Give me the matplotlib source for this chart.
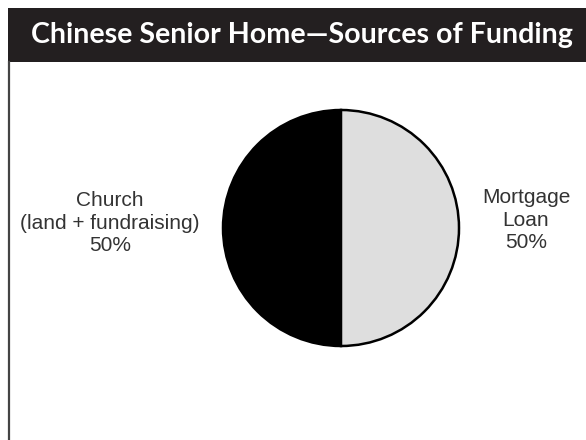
import matplotlib.pyplot as plt
from matplotlib.patches import Rectangle
from matplotlib.lines import Line2D

title = "Chinese Senior Home\u2014Sources of Funding"
sources = ["Church\n(land + fundraising)", "Mortgage\nLoan"]
shares = [50, 50]
colors = ["#000000", "#dedede"]

W, H = 586, 440
fig = plt.figure(figsize=(W / 100, H / 100), dpi=100)
fig.patch.set_facecolor("white")

# dark title band across the top
fig.add_artist(Rectangle((8 / W, 1 - 62 / H), 1 - 8 / W, 54 / H,
                         transform=fig.transFigure, facecolor="#231f20",
                         edgecolor="none"))
fig.text(302 / W, 1 - 35 / H, title, color="white",
         fontsize=20.6, fontweight="bold", family="Lato",
         ha="center", va="center")

# thin rule down the left side
fig.add_artist(Line2D([9.5 / W, 9.5 / W], [0, 1 - 62 / H],
                      transform=fig.transFigure, color="#444444", lw=1.6))

# pie
cx, cy, r = 341, 228, 118
ax = fig.add_axes([(cx - r) / W, 1 - (cy + r) / H, 2 * r / W, 2 * r / H])
wedges, _ = ax.pie(shares, colors=colors, startangle=90, counterclock=True,
                   wedgeprops=dict(edgecolor="black", linewidth=1.8))
for w in wedges:
    w.set_clip_on(False)
ax.set_xlim(-1, 1)
ax.set_ylim(-1, 1)
ax.set_aspect("equal")
ax.axis("off")

# slice labels either side of the pie
label_pos = [(110, 223), (526, 220)]
for (x, y), name, v in zip(label_pos, sources, shares):
    fig.text(x / W, 1 - y / H, f"{name}\n{v}%", ha="center", va="center",
             fontsize=15, family="Liberation Sans", color="#333333",
             linespacing=1.25)

fig.savefig("out.png", dpi=100)
